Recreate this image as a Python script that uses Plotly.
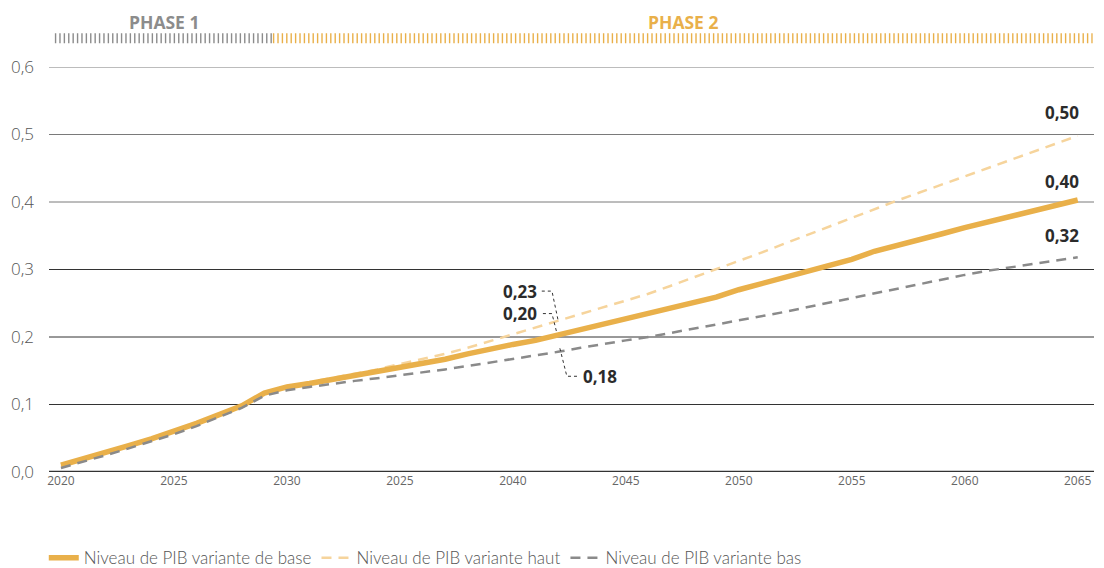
import plotly.graph_objects as go

years = list(range(2020, 2066))

base = [0.010, 0.019, 0.029, 0.039, 0.049, 0.060, 0.072, 0.085, 0.098, 0.117,
        0.126, 0.131, 0.137, 0.142, 0.148, 0.155, 0.161, 0.167, 0.175, 0.183,
        0.189, 0.195, 0.203, 0.210, 0.219, 0.227, 0.236, 0.243, 0.252, 0.259,
        0.270, 0.279, 0.288, 0.297, 0.306, 0.315, 0.327, 0.335, 0.344, 0.353,
        0.362, 0.370, 0.380, 0.388, 0.395, 0.403]

haut = [0.008, 0.018, 0.028, 0.038, 0.048, 0.059, 0.071, 0.084, 0.098, 0.116,
        0.127, 0.133, 0.139, 0.145, 0.152, 0.160, 0.167, 0.175, 0.184, 0.194,
        0.204, 0.214, 0.224, 0.234, 0.243, 0.253, 0.264, 0.276, 0.288, 0.300,
        0.312, 0.325, 0.338, 0.351, 0.364, 0.377, 0.390, 0.402, 0.414, 0.426,
        0.438, 0.450, 0.462, 0.474, 0.486, 0.498]

bas = [0.006, 0.015, 0.025, 0.035, 0.045, 0.056, 0.068, 0.081, 0.095, 0.113,
       0.121, 0.126, 0.131, 0.135, 0.139, 0.143, 0.147, 0.152, 0.157, 0.162,
       0.167, 0.172, 0.178, 0.184, 0.190, 0.195, 0.200, 0.206, 0.212, 0.218,
       0.224, 0.231, 0.237, 0.244, 0.251, 0.258, 0.265, 0.272, 0.279, 0.285,
       0.292, 0.298, 0.303, 0.308, 0.313, 0.318]

x_tickvals = [2020, 2025, 2030, 2035, 2040, 2045, 2050, 2055, 2060, 2065]
x_ticktext = ["2020", "2025", "2030", "2025", "2040", "2045", "2050", "2055", "2060", "2065"]
y_tickvals = [0.0, 0.1, 0.2, 0.3, 0.4, 0.5, 0.6]
y_ticktext = ["0,0", "0,1", "0,2", "0,3", "0,4", "0,5", "0,6"]

phase_start, phase_split, phase_end = 2019.73, 2029.38, 2065.66

names = ["Niveau de PIB variante de base", "Niveau de PIB variante haut", "Niveau de PIB variante bas"]
GOLD = "#E9B04A"
PEACH = "#F6D49C"
GREY = "#8A8A8A"

fig = go.Figure()
fig.add_trace(go.Scatter(x=years, y=haut, mode="lines", name=names[1], legendrank=2,
                         line=dict(color=PEACH, width=2.5, dash="10px,7px")))
fig.add_trace(go.Scatter(x=years, y=base, mode="lines", name=names[0], legendrank=1,
                         line=dict(color=GOLD, width=5.5)))
fig.add_trace(go.Scatter(x=years, y=bas, mode="lines", name=names[2], legendrank=3,
                         line=dict(color=GREY, width=2.5, dash="10px,7px")))

shapes = []
for v in y_tickvals[1:]:
    shapes.append(dict(type="line", xref="paper", yref="y", x0=0, x1=1, y0=v, y1=v,
                       line=dict(color="#7a7a7a" if v >= 0.4 else "#333333", width=1), layer="below"))
shapes.append(dict(type="line", xref="paper", yref="y", x0=0, x1=1, y0=0, y1=0,
                   line=dict(color="#333333", width=2.5), layer="above"))
shapes.append(dict(type="line", xref="x", yref="paper", x0=phase_start, x1=phase_split,
                   y0=1.071, y1=1.071, line=dict(color="#8C8C8C", width=10, dash="1.4px,3px")))
shapes.append(dict(type="line", xref="x", yref="paper", x0=phase_split, x1=phase_end,
                   y0=1.071, y1=1.071, line=dict(color=GOLD, width=10, dash="1.4px,3px")))
leader = dict(color="#333333", width=1, dash="dot")
shapes.append(dict(type="path", xref="x", yref="y",
                   path="M 2041.28,0.268 L 2041.73,0.268 L 2042.0,0.225", line=leader))
shapes.append(dict(type="path", xref="x", yref="y",
                   path="M 2041.33,0.2347 L 2041.73,0.2347 L 2041.95,0.2055", line=leader))
shapes.append(dict(type="path", xref="x", yref="y",
                   path="M 2042.08,0.1833 L 2042.39,0.1418 L 2042.88,0.1418", line=leader))

afont = dict(family="Open Sans", size=17, color="#2b2b2b", weight="bold")
annotations = [
    dict(x=2065.1, y=0.532, text="0,50", xanchor="right", yanchor="middle"),
    dict(x=2065.1, y=0.431, text="0,40", xanchor="right", yanchor="middle"),
    dict(x=2065.1, y=0.351, text="0,32", xanchor="right", yanchor="middle"),
    dict(x=2041.13, y=0.268, text="0,23", xanchor="right", yanchor="middle"),
    dict(x=2041.13, y=0.2347, text="0,20", xanchor="right", yanchor="middle"),
    dict(x=2043.04, y=0.1418, text="0,18", xanchor="left", yanchor="middle"),
]
for a in annotations:
    a.update(xref="x", yref="y", showarrow=False, font=afont, borderpad=0)

pfont = dict(family="Open Sans", size=17.5, weight="bold")
annotations.append(dict(x=(phase_start + phase_split) / 2, y=1.11, xref="x", yref="paper",
                        text="PHASE 1", showarrow=False, font=dict(pfont, color="#8C8C8C"),
                        xanchor="center", yanchor="middle"))
annotations.append(dict(x=(phase_split + phase_end) / 2, y=1.11, xref="x", yref="paper",
                        text="PHASE 2", showarrow=False, font=dict(pfont, color=GOLD),
                        xanchor="center", yanchor="middle"))

fig.update_layout(
    width=1104, height=568,
    margin=dict(l=41, r=18, t=59, b=104, autoexpand=False),
    paper_bgcolor="white", plot_bgcolor="white",
    shapes=shapes, annotations=annotations,
    showlegend=True,
    legend=dict(orientation="h", x=-0.005, xanchor="left", y=-0.213, yanchor="middle",
                font=dict(family="Lato", size=17, color="#555555", weight=300),
                traceorder="normal", itemwidth=30, tracegroupgap=0),
    xaxis=dict(range=[2019.47, 2065.72], tickvals=x_tickvals, ticktext=x_ticktext,
               showgrid=False, zeroline=False, showline=False, ticks="", automargin=False,
               tickfont=dict(family="Open Sans", size=12, color="#666666")),
    yaxis=dict(range=[0, 0.6], tickvals=y_tickvals, ticktext=y_ticktext,
               showgrid=False, zeroline=False, showline=False, ticks="", automargin=False,
               ticklabelstandoff=14,
               tickfont=dict(family="Open Sans", size=17, color="#555555", weight=300)),
)

fig.write_html("out.html")
